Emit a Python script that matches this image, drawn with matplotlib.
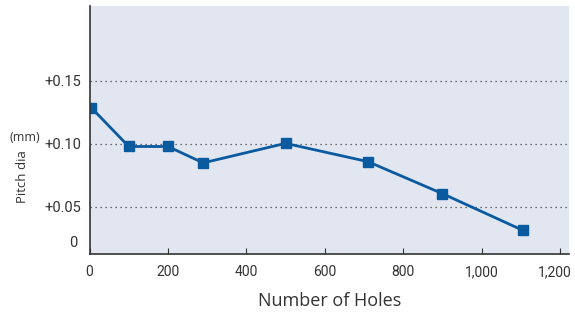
import matplotlib
matplotlib.use('Agg')
import matplotlib.pyplot as plt
import matplotlib.transforms as mtransforms

holes = [5, 100, 200, 290, 500, 710, 900, 1105]
pitch_dia = [0.1286, 0.098, 0.098, 0.085, 0.1005, 0.086, 0.0606, 0.0315]
x_ticks = [0, 200, 400, 600, 800, 1000, 1200]
x_labels = ['0', '200', '400', '600', '800', '1,000', '1,200']
y_ticks = [0.05, 0.10, 0.15]
y_labels = ['+0.05', '+0.10', '+0.15']

narrow = ['Roboto', 'DejaVu Sans']
dark = '#333333'
blue = '#0a5aa0'

fig = plt.figure(figsize=(5.75, 3.15), dpi=100)
ax = fig.add_axes([0.1557, 0.1937, 0.8339, 0.7873])
ax.set_facecolor('#e1e6f1')

ax.plot(holes, pitch_dia, '-', color=blue, lw=2, marker='s', ms=7,
        markerfacecolor=blue, markeredgecolor=blue)

ax.set_xlim(0, 1223)
ax.set_ylim(0.0127, 0.2095)

for y in y_ticks:
    ax.axhline(y, color='#444444', lw=0.9, ls=(0, (1, 3)), zorder=0)

ax.set_xticks(x_ticks)
ax.set_xticklabels(x_labels, family=narrow, fontsize=10, color=dark)
ax.set_yticks(y_ticks)
ax.set_yticklabels(y_labels, family=narrow, fontsize=10.5, color=dark)
ax.tick_params(axis='x', direction='in', length=4, color=dark, pad=8)
ax.tick_params(axis='y', length=0, pad=6)

# keep the last x label inside the figure
last = ax.get_xticklabels()[-1]
last.set_transform(last.get_transform() +
                   mtransforms.ScaledTranslation(-4 / 72, 0, fig.dpi_scale_trans))

# the "0" label sits just above the bottom spine
ax.text(-0.025, 0.045, '0', transform=ax.transAxes, ha='right', va='center',
        family=narrow, fontsize=10.5, color=dark)

for s in ['top', 'right']:
    ax.spines[s].set_visible(False)
for s in ['left', 'bottom']:
    ax.spines[s].set_color(dark)
    ax.spines[s].set_linewidth(1.2)

ax.set_xlabel('Number of Holes', fontsize=13, color=dark, family='Open Sans', labelpad=9)
fig.text(0.04, 0.44, 'Pitch dia', rotation=90, ha='center', va='center',
         fontsize=9.5, color=dark, family='Open Sans')
fig.text(0.043, 0.562, '(mm)', ha='center', va='center',
         fontsize=9, color=dark, family='Open Sans')

fig.savefig('out.png', dpi=100)
